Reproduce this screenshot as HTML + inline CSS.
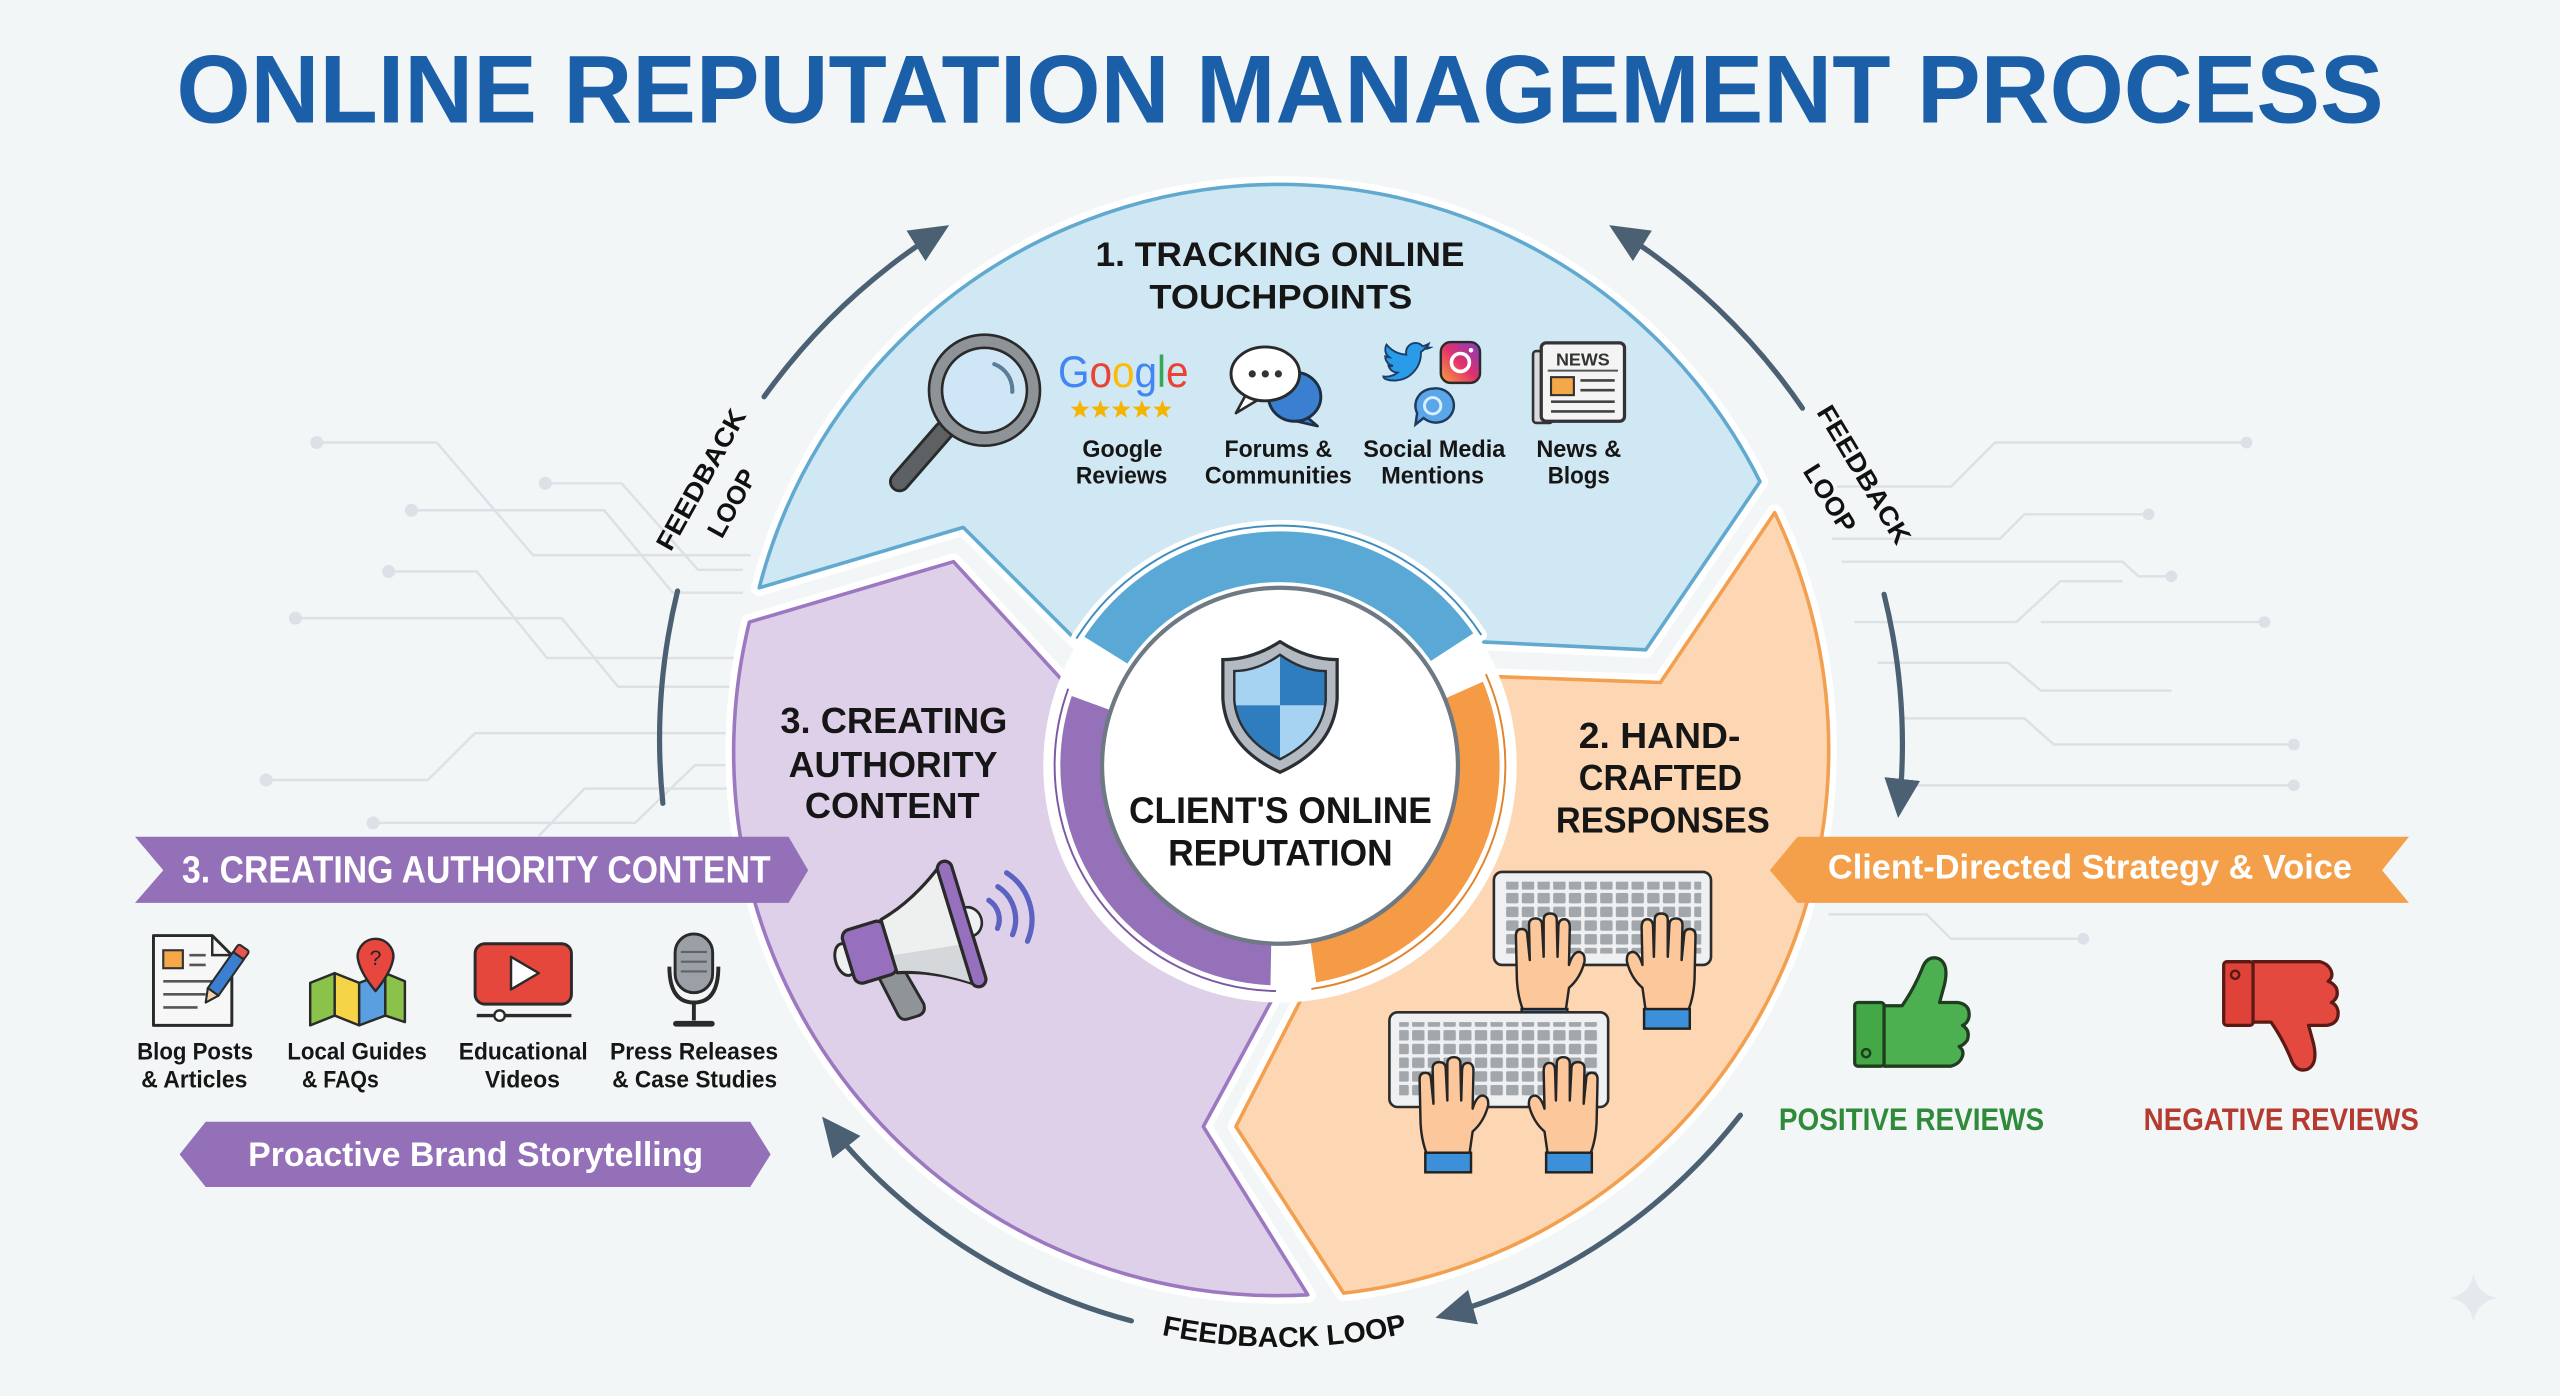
<!DOCTYPE html>
<html><head><meta charset="utf-8">
<style>
html,body{margin:0;padding:0;background:#f3f6f7;overflow:hidden;}
svg{display:block;}
text{font-family:"Liberation Sans",Arial,sans-serif;font-weight:bold;}
</style></head><body>
<svg xmlns="http://www.w3.org/2000/svg" width="2560" height="1396" viewBox="0 0 1568 855" preserveAspectRatio="none">
<defs>
  <marker id="ah" viewBox="0 0 24 24" refX="20" refY="12" markerWidth="24" markerHeight="24" markerUnits="userSpaceOnUse" orient="auto">
    <path d="M0,1 L24,12 L0,23 Z" fill="#4b6173"/>
  </marker>
  <pattern id="keys" width="9.6" height="8.4" patternUnits="userSpaceOnUse">
    <rect x="0.9" y="0.9" width="7.6" height="6.4" rx="1" fill="#a2a7ac"/>
  </pattern>
  <linearGradient id="ig" x1="0" y1="1" x2="1" y2="0">
    <stop offset="0" stop-color="#f9a43a"/><stop offset="0.5" stop-color="#e1306c"/><stop offset="1" stop-color="#7b3fc4"/>
  </linearGradient>
  <clipPath id="shc"><path d="M784,401 Q798,411 812,411 L812,429 Q810,452 784,465 Q758,452 756,429 L756,411 Q770,411 784,401 Z"/></clipPath>
  <path id="segB" d="M465,360 A329,329 0 0 1 1078,295 L1008,398 L905,393 L784,469 L663,396 L590,323 Z"/>
  <path id="segO" d="M1087,314 A335,335 0 0 1 823,792 L757,690 L800,606 L784,469 L905,414 L1017,418 Z"/>
  <path id="segP" d="M459,381 L584,344 L650,416 L784,469 L782,607 L737,690 L801,793 A333,333 0 0 1 459,381 Z"/>
  <path id="star" d="M0,-6 L1.47,-2.02 L5.71,-1.85 L2.38,0.77 L3.53,4.85 L0,2.5 L-3.53,4.85 L-2.38,0.77 L-5.71,-1.85 L-1.47,-2.02 Z" fill="#f4b400"/>
  <g id="hand">
    <path d="M12,60 L10,46 Q3,40 0.5,30 Q0,24 4.5,24 Q8,25 10,32 L9.5,9 Q9.5,4 13,4 Q16.5,4 16.5,9 L17,27 L17.5,4.5 Q17.5,0.5 21.5,0.5 Q25.5,0.5 25.5,4.5 L25.5,27 L26.5,7.5 Q26.5,3.5 30.5,3.5 Q34.5,3.5 34.5,7.5 L34,29 L35.5,14 Q35.5,10 39,10 Q42.5,10 42.5,14 L42,37 Q42,50 38,60 Z" fill="#fbc79b" stroke="#262626" stroke-width="1.5" stroke-linejoin="round"/>
    <rect x="11" y="59" width="28" height="12" fill="#3c8fd9" stroke="#222" stroke-width="1.5"/>
  </g>
  <path id="bp" d="M647.8,798 A357,357 0 0 0 920.2,798"/>
</defs>

<rect width="1568" height="855" fill="#f3f6f7"/>

<!-- circuit background lines -->
<g fill="none" stroke="#dbe1e6" stroke-width="1.5">
  <path d="M194,271 H267.5 L326.5,340 H460"/>
  <path d="M334,296 H380.7 L427.5,349 H455"/>
  <path d="M252,312.5 H370 L412,363 H455"/>
  <path d="M238,350 H292 L335,403 H450"/>
  <path d="M181,378.6 H344 L378.6,420.6 H450"/>
  <path d="M163,477.7 H262 L291,449 H450"/>
  <path d="M228.5,504 H389 L425.7,468.6 H450"/>
  <path d="M330,512 L358,483 H450"/>
  <path d="M1125,298 H1195 L1222,271 H1376"/>
  <path d="M1122,330 H1225 L1240,315 H1316"/>
  <path d="M1128,344 H1300 L1310,353 H1330"/>
  <path d="M1136,381 H1235 L1262,356 H1300"/>
  <path d="M1250,381 H1387"/>
  <path d="M1150,406 H1230 L1250,423 H1330"/>
  <path d="M1165,440 H1240 L1258,456 H1405"/>
  <path d="M1170,481 H1405"/>
  <path d="M1120,560 H1180 L1195,575 H1276"/>
</g>
<g fill="#dbe1e6">
  <circle cx="194" cy="271" r="4"/><circle cx="334" cy="296" r="4"/><circle cx="252" cy="312.5" r="4"/>
  <circle cx="238" cy="350" r="4"/><circle cx="181" cy="378.6" r="4"/><circle cx="163" cy="477.7" r="4"/>
  <circle cx="228.5" cy="504" r="4"/>
  <circle cx="1376" cy="271" r="3.6"/><circle cx="1316" cy="315" r="3.6"/><circle cx="1330" cy="353" r="3.6"/>
  <circle cx="1387" cy="381" r="3.6"/><circle cx="1405" cy="456" r="3.6"/><circle cx="1405" cy="481" r="3.6"/>
  <circle cx="1276" cy="575" r="3.6"/>
</g>

<!-- Title -->
<text x="108" y="75" font-size="59" fill="#1c5fa9" textLength="1352" lengthAdjust="spacingAndGlyphs">ONLINE REPUTATION MANAGEMENT PROCESS</text>

<!-- Segments: white outlines -->
<g fill="#fff" stroke="#fff" stroke-width="10" stroke-linejoin="round">
  <use href="#segB"/><use href="#segO"/><use href="#segP"/>
</g>
<use href="#segB" fill="#d0e8f3" stroke="#62a9cf" stroke-width="2.2" stroke-linejoin="round"/>
<use href="#segO" fill="#fdd7b3" stroke="#f2a050" stroke-width="2.2" stroke-linejoin="round"/>
<use href="#segP" fill="#dfd0ea" stroke="#9b78c0" stroke-width="2.2" stroke-linejoin="round"/>

<!-- white disk around center -->
<circle cx="784" cy="469" r="145" fill="#fff"/>

<!-- Rings -->
<g stroke="#fff" stroke-width="7" stroke-linejoin="round">
  <path d="M659.3,391.1 A147,147 0 0 1 907.3,388.9 L875.4,409.6 A109,109 0 0 0 691.6,411.2 Z" fill="#5aa8d5"/>
  <path d="M781.6,607 A138,138 0 0 1 654.3,421.8 L685.3,433.1 A105,105 0 0 0 782.2,574 Z" fill="#9471b9"/>
  <path d="M910.1,412.9 A138,138 0 0 1 803.2,605.7 L798.6,573 A105,105 0 0 0 879.9,426.3 Z" fill="#f59b45"/>
</g>
<g fill="none" stroke-width="1.2">
  <path d="M659.3,391.1 A147,147 0 0 1 907.3,388.9" stroke="#3f8cbf"/>
  <path d="M781.6,607 A138,138 0 0 1 654.3,421.8" stroke="#7b5aa3"/>
  <path d="M910.1,412.9 A138,138 0 0 1 803.2,605.7" stroke="#e0842f"/>
</g>

<!-- Center circle -->
<circle cx="784" cy="469" r="109" fill="#fff" stroke="#6f7983" stroke-width="2.6"/>
<!-- Shield -->
<path d="M784,393 Q801,404 819,404 L819,428 Q817,458 784,473 Q751,458 749,428 L749,404 Q767,404 784,393 Z" fill="#b3bac1" stroke="#2b2f33" stroke-width="2"/>
<g clip-path="url(#shc)">
  <rect x="750" y="395" width="34" height="37" fill="#a7d3f2"/>
  <rect x="784" y="395" width="36" height="37" fill="#2f7cbf"/>
  <rect x="750" y="432" width="34" height="40" fill="#2f7cbf"/>
  <rect x="784" y="432" width="36" height="40" fill="#a7d3f2"/>
</g>
<path d="M784,401 Q798,411 812,411 L812,429 Q810,452 784,465 Q758,452 756,429 L756,411 Q770,411 784,401 Z" fill="none" stroke="#2b2f33" stroke-width="1.5"/>
<text x="691.5" y="504" font-size="22.5" fill="#151515" textLength="185.5" lengthAdjust="spacingAndGlyphs">CLIENT'S ONLINE</text>
<text x="715.5" y="530" font-size="22.5" fill="#151515" textLength="137.5" lengthAdjust="spacingAndGlyphs">REPUTATION</text>

<!-- Top segment content -->
<g fill="#161616">
<text x="671" y="163" font-size="21" textLength="226" lengthAdjust="spacingAndGlyphs">1. TRACKING ONLINE</text>
<text x="704" y="189" font-size="21" textLength="161" lengthAdjust="spacingAndGlyphs">TOUCHPOINTS</text>
<g font-size="14.5">
<text x="663" y="280" textLength="49" lengthAdjust="spacingAndGlyphs">Google</text>
<text x="659" y="296" textLength="56" lengthAdjust="spacingAndGlyphs">Reviews</text>
<text x="750" y="280" textLength="66" lengthAdjust="spacingAndGlyphs">Forums &amp;</text>
<text x="738" y="296" textLength="90" lengthAdjust="spacingAndGlyphs">Communities</text>
<text x="835" y="280" textLength="87" lengthAdjust="spacingAndGlyphs">Social Media</text>
<text x="846" y="296" textLength="63" lengthAdjust="spacingAndGlyphs">Mentions</text>
<text x="941" y="280" textLength="52" lengthAdjust="spacingAndGlyphs">News &amp;</text>
<text x="948" y="296" textLength="38" lengthAdjust="spacingAndGlyphs">Blogs</text>
</g>
</g>
<!-- magnifier -->
<line x1="578" y1="264" x2="551" y2="295" stroke="#2a2a2a" stroke-width="13" stroke-linecap="round"/>
<line x1="578" y1="264" x2="551" y2="295" stroke="#5d6164" stroke-width="9.5" stroke-linecap="round"/>
<circle cx="603" cy="239" r="30" fill="#cfe6f6" stroke="#8e9397" stroke-width="7"/>
<circle cx="603" cy="239" r="34" fill="none" stroke="#2a2a2a" stroke-width="1.6"/>
<circle cx="603" cy="239" r="26" fill="none" stroke="#2a2a2a" stroke-width="1.6"/>
<path d="M609,223 A17,17 0 0 1 620,240" fill="none" stroke="#5c7d96" stroke-width="2.5" stroke-linecap="round"/>
<!-- Google -->
<text x="648" y="237" font-size="27" style="font-weight:normal" textLength="80" lengthAdjust="spacingAndGlyphs"><tspan fill="#4285F4">G</tspan><tspan fill="#EA4335">o</tspan><tspan fill="#FBBC05">o</tspan><tspan fill="#4285F4">g</tspan><tspan fill="#34A853">l</tspan><tspan fill="#EA4335">e</tspan></text>
<use href="#star" x="661.5" y="251"/><use href="#star" x="674" y="251"/><use href="#star" x="686.7" y="251"/><use href="#star" x="699.4" y="251"/><use href="#star" x="712" y="251"/>
<!-- chat -->
<path d="M800,255 L807,261 L794,258 Z" fill="#3a7fd0" stroke="#1e2f44" stroke-width="1.6" stroke-linejoin="round"/>
<ellipse cx="793" cy="243" rx="16" ry="15" fill="#3a7fd0" stroke="#1e2f44" stroke-width="1.8"/>
<path d="M764,240 L757,253 L772,244 Z" fill="#fff" stroke="#2a2a2a" stroke-width="1.6" stroke-linejoin="round"/>
<ellipse cx="775" cy="229" rx="21" ry="16.5" fill="#fff" stroke="#2a2a2a" stroke-width="1.8"/>
<circle cx="767" cy="229" r="2.2" fill="#333"/><circle cx="775" cy="229" r="2.2" fill="#333"/><circle cx="783" cy="229" r="2.2" fill="#333"/>
<!-- social -->
<g transform="translate(846,209) scale(1.3)">
<path d="M23,3 c-0.8,0.4-1.7,0.6-2.6,0.7 c0.9-0.6,1.6-1.4,2-2.5 c-0.9,0.5-1.9,0.9-2.9,1.1 C18.6,1.3,17.4,0.8,16.2,0.8 c-2.5,0-4.5,2-4.5,4.5 c0,0.4,0,0.7,0.1,1 C8,6.1,4.7,4.3,2.5,1.6 C2.1,2.3,1.9,3,1.9,3.9 c0,1.6,0.8,2.9,2,3.7 C3.2,7.6,2.5,7.4,1.9,7.1 v0.1 c0,2.2,1.6,4,3.6,4.4 c-0.4,0.1-0.8,0.2-1.2,0.2 c-0.3,0-0.6,0-0.8-0.1 c0.6,1.8,2.2,3.1,4.2,3.1 c-1.5,1.2-3.5,1.9-5.6,1.9 c-0.4,0-0.7,0-1.1-0.1 C1,17.8,3.4,18.5,5.9,18.5 c8.3,0,12.8-6.9,12.8-12.8 c0-0.2,0-0.4,0-0.6 C19.6,4.5,20.4,3.8,21,2.9 z" fill="#2a9be8" stroke="#1a3f66" stroke-width="0.9"/>
</g>
<rect x="882.5" y="209.5" width="24" height="25" rx="6" fill="url(#ig)" stroke="#2a2a2a" stroke-width="1.5"/>
<circle cx="894.5" cy="222" r="5.5" fill="none" stroke="#fff" stroke-width="2.2"/>
<circle cx="901" cy="214.5" r="1.4" fill="#fff"/>
<path d="M877.5,238 A11,10.5 0 1 1 872,256 L867,260 L868,253 A11,10.5 0 0 1 877.5,238 Z" fill="#5aa6e8" stroke="#1e3a5c" stroke-width="1.5"/>
<circle cx="877.5" cy="248.5" r="5" fill="none" stroke="#dbeeff" stroke-width="1.8"/>
<!-- news -->
<rect x="939" y="215" width="12" height="44" rx="2" fill="#d9dcdf" stroke="#333" stroke-width="1.6"/>
<rect x="944" y="210" width="51" height="48" rx="3" fill="#f4f4f4" stroke="#333" stroke-width="2"/>
<text x="969.5" y="224" font-size="11" text-anchor="middle" fill="#333">NEWS</text>
<line x1="948" y1="227" x2="991" y2="227" stroke="#555" stroke-width="1.2"/>
<rect x="950" y="231" width="14" height="11" fill="#f5a84a" stroke="#333" stroke-width="1.3"/>
<g stroke="#444" stroke-width="1.6">
<line x1="968" y1="233" x2="989" y2="233"/><line x1="968" y1="239" x2="989" y2="239"/>
<line x1="950" y1="246" x2="989" y2="246"/><line x1="950" y1="252" x2="989" y2="252"/>
</g>

<!-- Purple segment content -->
<g fill="#161616" font-size="22">
<text x="478" y="449" textLength="139" lengthAdjust="spacingAndGlyphs">3. CREATING</text>
<text x="483" y="476" textLength="128" lengthAdjust="spacingAndGlyphs">AUTHORITY</text>
<text x="493" y="501" textLength="107" lengthAdjust="spacingAndGlyphs">CONTENT</text>
</g>
<!-- megaphone -->
<g transform="translate(556,576) rotate(-17)" stroke="#2a2a2a" stroke-linejoin="round">
  <path d="M-24,14 L-8,14 L-2,40 Q-2,46 -8,46 L-14,46 Q-18,46 -19,42 Z" fill="#8f9499" stroke-width="1.8"/>
  <ellipse cx="-40" cy="0" rx="6" ry="10" fill="#eef0f2" stroke-width="1.8"/>
  <rect x="-38" y="-17" width="27" height="34" rx="5" fill="#9670bd" stroke-width="2"/>
  <path d="M-12,-17 Q10,-22 32,-38 L32,38 Q10,22 -12,17 Z" fill="#eef0f0" stroke-width="2"/>
  <path d="M-11,6 L31,12 L31,37 Q10,22 -11,16 Z" fill="#d5d8da" stroke="none"/>
  <rect x="30" y="-40" width="9" height="80" rx="4.5" fill="#9670bd" stroke-width="2"/>
  <path d="M39,-9 A8,9 0 0 1 39,9 Z" fill="#eef0f2" stroke-width="1.6"/>
  <g fill="none" stroke="#5b62c2" stroke-width="3.2" stroke-linecap="round">
    <path d="M54.7,-9 A14,14 0 0 1 54.7,9"/>
    <path d="M62.4,-15.4 A24,24 0 0 1 62.4,15.4"/>
    <path d="M70,-21.9 A34,34 0 0 1 70,21.9"/>
  </g>
</g>

<!-- Orange segment content -->
<g fill="#161616" font-size="22">
<text x="967" y="458" textLength="99" lengthAdjust="spacingAndGlyphs">2. HAND-</text>
<text x="967" y="484" textLength="100" lengthAdjust="spacingAndGlyphs">CRAFTED</text>
<text x="953" y="510" textLength="131" lengthAdjust="spacingAndGlyphs">RESPONSES</text>
</g>
<!-- keyboard 1 -->
<rect x="915" y="534" width="133" height="57" rx="5" fill="#eef0f2" stroke="#2d2d2d" stroke-width="1.6"/>
<rect x="921" y="540" width="121" height="44" fill="url(#keys)"/>
<use href="#hand" transform="translate(971,559) scale(-1,1)"/>
<use href="#hand" transform="translate(996,559)"/>
<!-- keyboard 2 -->
<rect x="851" y="620" width="134" height="58" rx="5" fill="#eef0f2" stroke="#2d2d2d" stroke-width="1.6"/>
<rect x="857" y="626" width="122" height="45" fill="url(#keys)"/>
<use href="#hand" transform="translate(912,647) scale(-1,1)"/>
<use href="#hand" transform="translate(936,647)"/>

<!-- Left banners -->
<path d="M82.7,512.5 H483 L495,533 L483,553 H82.7 L100,533 Z" fill="#9370b8"/>
<text x="111.5" y="540.5" font-size="23" fill="#fff" textLength="360.5" lengthAdjust="spacingAndGlyphs">3. CREATING AUTHORITY CONTENT</text>
<path d="M110,707 L126,687 H459.5 L472,707 L459.5,727 H126 Z" fill="#9370b8"/>
<text x="152" y="714" font-size="21" fill="#fff" textLength="278.6" lengthAdjust="spacingAndGlyphs">Proactive Brand Storytelling</text>

<!-- left icons -->
<path d="M94,573 H130 L142,585 V628 H94 Z" fill="#f7f7f7" stroke="#2a2a2a" stroke-width="1.8" stroke-linejoin="round"/>
<path d="M130,573 V585 H142" fill="none" stroke="#2a2a2a" stroke-width="1.5"/>
<rect x="100" y="582" width="12" height="11" fill="#f5a84a" stroke="#333" stroke-width="1.3"/>
<g stroke="#555" stroke-width="1.6">
<line x1="116" y1="585" x2="126" y2="585"/><line x1="116" y1="591" x2="126" y2="591"/>
<line x1="100" y1="601" x2="130" y2="601"/><line x1="100" y1="609" x2="126" y2="609"/><line x1="100" y1="617" x2="121" y2="617"/>
</g>
<g transform="translate(126,614) rotate(-55)">
  <path d="M0,0 L8,-4 L8,4 Z" fill="#f3d3a8" stroke="#2a2a2a" stroke-width="1.3" stroke-linejoin="round"/>
  <rect x="8" y="-4" width="27" height="8" fill="#3b7fd1" stroke="#2a2a2a" stroke-width="1.3"/>
  <rect x="35" y="-4" width="6" height="8" rx="1.5" fill="#e9564b" stroke="#2a2a2a" stroke-width="1.3"/>
</g>
<g stroke="#2a2a2a" stroke-width="1.5" stroke-linejoin="round">
<path d="M190,602 L205,596 L205,622 L190,628 Z" fill="#8bc34a"/>
<path d="M205,596 L220,602 L220,628 L205,622 Z" fill="#f5d547"/>
<path d="M220,602 L236,596 L236,622 L220,628 Z" fill="#5aa0e0"/>
<path d="M236,596 L248,601 L248,626 L236,622 Z" fill="#8bc34a"/>
<path d="M230,607 Q220,595 219,586 A11,11 0 1 1 241,586 Q240,595 230,607 Z" fill="#e8473f"/>
</g>
<text x="230" y="591" font-size="13" text-anchor="middle" fill="#222" style="font-weight:normal">?</text>
<rect x="291" y="578" width="59" height="37" rx="6" fill="#e5473d" stroke="#2a2a2a" stroke-width="1.8"/>
<path d="M313,586 L313,606 L330,596 Z" fill="#fff" stroke="#2a2a2a" stroke-width="1.5" stroke-linejoin="round"/>
<line x1="292" y1="622" x2="350" y2="622" stroke="#2a2a2a" stroke-width="2"/>
<circle cx="306" cy="622" r="3.2" fill="#fff" stroke="#2a2a2a" stroke-width="1.5"/>
<path d="M410,592 Q410,614 425,614 Q440,614 440,592" fill="none" stroke="#2a2a2a" stroke-width="2.4"/>
<rect x="413.5" y="572" width="23" height="36" rx="11.5" fill="#9aa0a6" stroke="#2a2a2a" stroke-width="1.8"/>
<g stroke="#5d6368" stroke-width="1.3"><line x1="417" y1="583" x2="433" y2="583"/><line x1="417" y1="589" x2="433" y2="589"/><line x1="417" y1="595" x2="433" y2="595"/></g>
<line x1="425" y1="614" x2="425" y2="625" stroke="#2a2a2a" stroke-width="2.4"/>
<line x1="414" y1="627" x2="436" y2="627" stroke="#2a2a2a" stroke-width="3.5" stroke-linecap="round"/>
<g fill="#161616" font-size="14.5">
<text x="84" y="649" textLength="71" lengthAdjust="spacingAndGlyphs">Blog Posts</text>
<text x="86.5" y="666" textLength="65" lengthAdjust="spacingAndGlyphs">&amp; Articles</text>
<text x="176" y="649" textLength="85.5" lengthAdjust="spacingAndGlyphs">Local Guides</text>
<text x="185" y="666" textLength="47" lengthAdjust="spacingAndGlyphs">&amp; FAQs</text>
<text x="281" y="649" textLength="79" lengthAdjust="spacingAndGlyphs">Educational</text>
<text x="297" y="666" textLength="46" lengthAdjust="spacingAndGlyphs">Videos</text>
<text x="373.6" y="649" textLength="103" lengthAdjust="spacingAndGlyphs">Press Releases</text>
<text x="375" y="666" textLength="101" lengthAdjust="spacingAndGlyphs">&amp; Case Studies</text>
</g>

<!-- Right banner -->
<path d="M1084,533 L1101,512.5 H1475.5 L1459,533 L1475.5,553 H1101 Z" fill="#f4a04a"/>
<text x="1119.6" y="538" font-size="21" fill="#fff" textLength="321" lengthAdjust="spacingAndGlyphs">Client-Directed Strategy &amp; Voice</text>
<!-- thumbs -->
<g>
<rect x="1136" y="614" width="18" height="39" rx="2" fill="#43a947" stroke="#1f3d20" stroke-width="2"/>
<circle cx="1143" cy="645" r="2.5" fill="none" stroke="#1f3d20" stroke-width="1.5"/>
<path d="M1154,616 L1165,616 Q1172,606 1177,594 Q1180,585 1187,587 Q1194,590 1191,603 L1188,614 L1199,614 Q1207,615 1206,623 Q1205,627 1202,628 Q1207,631 1205,637 Q1203,640 1200,641 Q1204,644 1201,649 Q1199,652 1195,653 L1154,653 Z" fill="#4cb050" stroke="#1f3d20" stroke-width="2" stroke-linejoin="round"/>
</g>
<g transform="translate(226,1242) scale(1,-1)">
<rect x="1136" y="614" width="18" height="39" rx="2" fill="#de4238" stroke="#5d1a15" stroke-width="2"/>
<circle cx="1143" cy="645" r="2.5" fill="none" stroke="#5d1a15" stroke-width="1.5"/>
<path d="M1154,616 L1165,616 Q1172,606 1177,594 Q1180,585 1187,587 Q1194,590 1191,603 L1188,614 L1199,614 Q1207,615 1206,623 Q1205,627 1202,628 Q1207,631 1205,637 Q1203,640 1200,641 Q1204,644 1201,649 Q1199,652 1195,653 L1154,653 Z" fill="#e4493f" stroke="#5d1a15" stroke-width="2" stroke-linejoin="round"/>
</g>
<text x="1089.6" y="692" font-size="19" fill="#2f8a3a" textLength="162.4" lengthAdjust="spacingAndGlyphs">POSITIVE REVIEWS</text>
<text x="1313" y="692" font-size="19" fill="#b53a30" textLength="168.6" lengthAdjust="spacingAndGlyphs">NEGATIVE REVIEWS</text>

<!-- Feedback arrows -->
<g fill="none" stroke="#4b6173" stroke-width="3.2" stroke-linecap="round">
  <path d="M468,243 A387,387 0 0 1 578,140" marker-end="url(#ah)"/>
  <path d="M1104,250 A387,387 0 0 0 989,140" marker-end="url(#ah)"/>
  <path d="M1154,364 A383,383 0 0 1 1163,497" marker-end="url(#ah)"/>
  <path d="M406,492 A382,382 0 0 1 415,362"/>
  <path d="M1066,683 A355,355 0 0 1 883,806" marker-end="url(#ah)"/>
  <path d="M693,809 A355,355 0 0 1 506,687" marker-end="url(#ah)"/>
</g>
<g fill="#111" font-size="16">
<text transform="translate(429,293.5) rotate(-61)" x="-48" y="5.8" textLength="96" lengthAdjust="spacingAndGlyphs">FEEDBACK</text>
<text transform="translate(448,308) rotate(-61)" x="-22.5" y="5.8" textLength="45" lengthAdjust="spacingAndGlyphs">LOOP</text>
<text transform="translate(1142,290.5) rotate(59)" x="-48" y="5.8" textLength="96" lengthAdjust="spacingAndGlyphs">FEEDBACK</text>
<text transform="translate(1121,305) rotate(58)" x="-23" y="5.8" textLength="46" lengthAdjust="spacingAndGlyphs">LOOP</text>
</g>
<text font-size="17.5" fill="#111"><textPath href="#bp" startOffset="51%" text-anchor="middle">FEEDBACK LOOP</textPath></text>

<!-- sparkle -->
<path d="M1515,780 Q1517,793 1530,795 Q1517,797 1515,810 Q1513,797 1500,795 Q1513,793 1515,780 Z" fill="#e4e9ed"/>
</svg>
</body></html>
